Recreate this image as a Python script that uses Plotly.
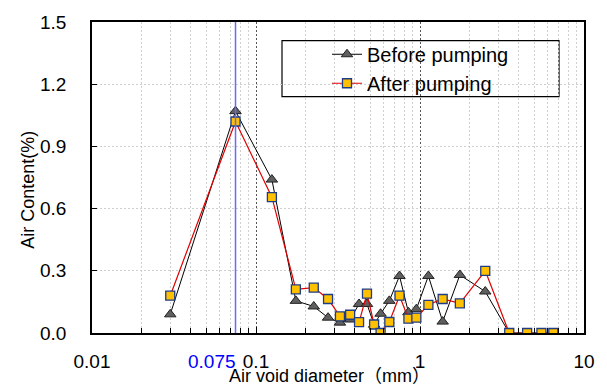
import math
import plotly.graph_objects as go

# ---- data ----
diameter_mm = [0.03, 0.075, 0.125, 0.175, 0.225, 0.275, 0.325, 0.375, 0.425, 0.475,
               0.525, 0.575, 0.65, 0.75, 0.85, 0.95, 1.125, 1.375, 1.75, 2.5,
               3.5, 4.5, 5.5, 6.5]
before_pumping = [0.09, 1.07, 0.74, 0.155, 0.128, 0.074, 0.05, 0.065, 0.14, 0.14,
                  0.04, 0.093, 0.155, 0.275, 0.10, 0.115, 0.275, 0.055, 0.28, 0.20,
                  0.0, 0.0, 0.0, 0.0]
after_pumping = [0.18, 1.02, 0.655, 0.21, 0.219, 0.164, 0.08, 0.088, 0.052, 0.19,
                 0.041, 0.0, 0.053, 0.18, 0.069, 0.074, 0.136, 0.164, 0.143, 0.30,
                 0.0, 0.0, 0.0, 0.0]
series_names = ["Before pumping", "After pumping"]
marker_line_x = 0.075
x_tick_vals = [0.01, 0.1, 1, 10]
x_tick_text = ["0.01", "0.1", "1", "10"]
y_tick_vals = [0.0, 0.3, 0.6, 0.9, 1.2, 1.5]

FONT = "Liberation Sans, Arial, Noto Sans CJK JP, sans-serif"

fig = go.Figure()
fig.add_trace(go.Scatter(
    x=diameter_mm, y=before_pumping, name=series_names[0], mode="lines+markers",
    line=dict(color="black", width=1),
    marker=dict(symbol="triangle-up", size=10, color="#5f5f5f",
                line=dict(color="#222222", width=1)),
))
fig.add_trace(go.Scatter(
    x=diameter_mm, y=after_pumping, name=series_names[1], mode="lines+markers",
    line=dict(color="#e00000", width=1.2),
    marker=dict(symbol="square", size=9, color="#ffc000",
                line=dict(color="#1f3c88", width=1.3)),
))
fig.add_trace(go.Scatter(
    x=[marker_line_x, marker_line_x], y=[y_tick_vals[0], y_tick_vals[-1]],
    mode="lines", line=dict(color="rgb(105,105,255)", width=1.5),
    showlegend=False, hoverinfo="skip",
))

minor_vals = [d * 10 ** e for e in (-2, -1, 0) for d in range(2, 10)]

fig.update_xaxes(
    type="log", range=[-2, 1],
    tickvals=x_tick_vals, ticktext=x_tick_text,
    ticks="inside", ticklen=6, tickcolor="black",
    showgrid=True, gridcolor="#555555", griddash="2px,2px", gridwidth=1,
    minor=dict(tickvals=minor_vals, ticks="inside", ticklen=5, tickcolor="black",
               showgrid=True, gridcolor="#cfcfcf", griddash="2px,2px", gridwidth=1),
    showline=True, linecolor="black", linewidth=1.5, mirror=True,
    tickfont=dict(family=FONT, size=19, color="black"),
    ticklabelstandoff=10,
    zeroline=False,
)
fig.update_yaxes(
    range=[0, 1.5], tickvals=y_tick_vals, tickformat=".1f",
    ticks="inside", ticklen=5, tickcolor="black",
    showgrid=True, gridcolor="#cfcfcf", griddash="2px,2px", gridwidth=1,
    showline=True, linecolor="black", linewidth=1.5, mirror=True,
    tickfont=dict(family=FONT, size=19, color="black"),
    ticklabelstandoff=20,
    zeroline=False,
)

# blue 0.075 label
fig.add_annotation(
    x=math.log10(marker_line_x), y=0, xref="x", yref="y",
    text="0.075", showarrow=False, xanchor="right", yanchor="top",
    yshift=-16, xshift=2,
    font=dict(family=FONT, size=19, color="#0000ff"),
)
# axis titles
fig.add_annotation(
    x=(329 - 92) / 492, y=-(377 - 333) / 317, xref="paper", yref="paper",
    text="Air void diameter（mm）", showarrow=False, xanchor="center", yanchor="middle",
    font=dict(family=FONT, size=18, color="black"),
)
fig.add_annotation(
    x=(28 - 92) / 492, y=(333 - 187) / 317, xref="paper", yref="paper",
    text="Air Content(%)", showarrow=False, textangle=-90,
    xanchor="center", yanchor="middle",
    font=dict(family=FONT, size=18, color="black"),
)

# legend frame
fig.add_shape(
    type="rect", xref="paper", yref="paper",
    x0=(282 - 92) / 492, x1=(559 - 92) / 492,
    y0=(333 - 92) / 317, y1=(333 - 35) / 317,
    line=dict(color="black", width=1.2), fillcolor="white", layer="between",
)

fig.update_layout(
    width=607, height=387,
    margin=dict(l=92, r=23, t=16, b=54),
    plot_bgcolor="white", paper_bgcolor="white",
    font=dict(family=FONT, size=19, color="black"),
    legend=dict(
        x=(327 - 92) / 492, y=(333 - 29) / 317, xanchor="left", yanchor="top",
        bgcolor="rgba(0,0,0,0)", borderwidth=0,
        font=dict(family=FONT, size=20, color="black"),
        tracegroupgap=0,
    ),
    showlegend=True,
)

fig.write_html("out.html")
